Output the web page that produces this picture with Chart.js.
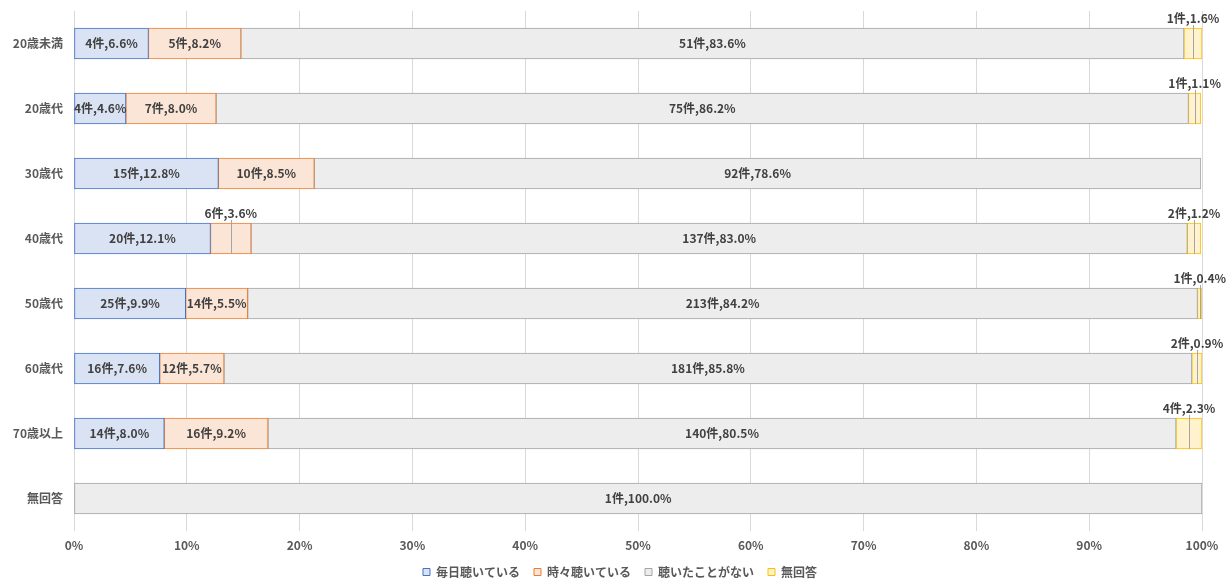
<!DOCTYPE html>
<html>
<head>
<meta charset="utf-8">
<script src="https://cdn.jsdelivr.net/npm/chart.js@4"></script>
<style>
  html, body { margin: 0; padding: 0; background: #fff; }
  #wrap { width: 1228px; height: 581px; position: relative; }
</style>
</head>
<body>
<div id="wrap"><canvas id="chart"></canvas></div>
<script>
// ── DATA ─────────────────────────────────────────
const categories = ["20歳未満", "20歳代", "30歳代", "40歳代", "50歳代", "60歳代", "70歳以上", "無回答"];
const seriesNames = ["毎日聴いている", "時々聴いている", "聴いたことがない", "無回答"];

// percentages
const pctDaily     = [6.6, 4.6, 12.8, 12.1, 9.9, 7.6, 8.0, 0];
const pctSometimes = [8.2, 8.0, 8.5, 3.6, 5.5, 5.7, 9.2, 0];
const pctNever     = [83.6, 86.2, 78.6, 83.0, 84.2, 85.8, 80.5, 100.0];
const pctNoAnswer  = [1.6, 1.1, 0, 1.2, 0.4, 0.9, 2.3, 0];

// counts (件)
const cntDaily     = [4, 4, 15, 20, 25, 16, 14, 0];
const cntSometimes = [5, 7, 10, 6, 14, 12, 16, 0];
const cntNever     = [51, 75, 92, 137, 213, 181, 140, 1];
const cntNoAnswer  = [1, 1, 0, 2, 1, 2, 4, 0];

const xTicks = [0, 10, 20, 30, 40, 50, 60, 70, 80, 90, 100];

// ── STYLE ────────────────────────────────────────
const FILLS   = ["#dae3f3", "#fbe5d6", "#ededed", "#fff2cc"];
const BORDERS = ["#4472c4", "#ed7d31", "#a5a5a5", "#ffc000"];
const FONT    = "'Noto Sans CJK JP', 'Noto Sans', sans-serif";
const TEXT    = "#404040";

const pcts = [pctDaily, pctSometimes, pctNever, pctNoAnswer];
const cnts = [cntDaily, cntSometimes, cntNever, cntNoAnswer];

// ── LABEL PLUGIN ─────────────────────────────────
const segLabels = {
  id: "segLabels",
  afterLayout(chart) {
    // 凡例をキャンバス中央寄せに少しずらす
    chart.legend.left  += 19;
    chart.legend.right += 19;
  },
  afterDatasetsDraw(chart) {
    const ctx = chart.ctx;
    ctx.save();
    ctx.font = "bold 12px " + FONT;
    ctx.textAlign = "center";
    ctx.textBaseline = "middle";
    chart.data.datasets.forEach((ds, di) => {
      chart.getDatasetMeta(di).data.forEach((bar, i) => {
        const v = pcts[di][i];
        if (!v) return;
        const txt = cnts[di][i] + "件," + v.toFixed(1) + "%";
        const left = Math.min(bar.x, bar.base), right = Math.max(bar.x, bar.base);
        const w = right - left;
        const cx = (left + right) / 2;
        const top = bar.y - bar.height / 2, bottom = bar.y + bar.height / 2;
        if (w >= 45) {
          ctx.fillStyle = TEXT;
          ctx.fillText(txt, cx, bar.y);
        } else {
          // 幅が狭いときは上に出して引き出し線
          ctx.strokeStyle = "#a5a5a5";
          ctx.lineWidth = 1;
          ctx.beginPath();
          ctx.moveTo(Math.round(cx) + 0.5, top - 3);
          ctx.lineTo(Math.round(cx) + 0.5, bottom);
          ctx.stroke();
          ctx.fillStyle = TEXT;
          ctx.fillText(txt, cx, top - 10);
        }
      });
    });
    ctx.restore();
  }
};

// ── CHART ────────────────────────────────────────
new Chart(document.getElementById("chart"), {
  type: "bar",
  data: {
    labels: categories,
    datasets: seriesNames.map((name, k) => ({
      label: name,
      data: pcts[k],
      backgroundColor: FILLS[k],
      borderColor: BORDERS[k],
      borderWidth: 1,
      borderSkipped: false,
      barThickness: 31,
    })),
  },
  options: {
    indexAxis: "y",
    responsive: true,
    maintainAspectRatio: false,
    animation: false,
    layout: { padding: { top: 11, right: 26, bottom: -7, left: 0 } },
    scales: {
      x: {
        stacked: true,
        min: 0,
        max: 100,
        afterBuildTicks: s => { s.ticks = xTicks.map(v => ({ value: v })); },
        afterFit: s => { s.height = 21; },
        grid: { color: "#d9d9d9", drawTicks: false },
        border: { display: false },
        ticks: {
          padding: 7,
          color: "#595959",
          font: { family: FONT, size: 12, weight: "bold" },
          callback: v => v + "%",
        },
      },
      y: {
        stacked: true,
        afterFit: s => { s.width = 74; s.paddingTop = 0; s.paddingBottom = 0; },
        grid: { display: false, drawTicks: false },
        border: { display: false },
        ticks: {
          padding: 11,
          color: "#595959",
          font: { family: FONT, size: 12, weight: "bold" },
        },
      },
    },
    plugins: {
      legend: {
        position: "bottom",
        labels: {
          boxWidth: 7,
          boxHeight: 7,
          padding: 14,
          color: "#595959",
          font: { family: FONT, size: 12, weight: "bold" },
        },
      },
      tooltip: { enabled: false },
    },
  },
  plugins: [segLabels],
});
</script>
</body>
</html>
